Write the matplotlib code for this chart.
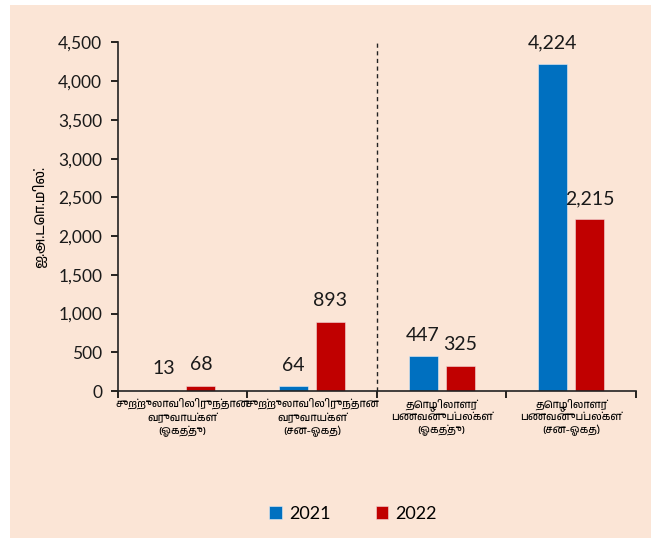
import matplotlib.pyplot as plt
import matplotlib.font_manager as fm
import numpy as np

categories = [
    "சுற்றுலாவிலிருந்தான\nவருவாய்கள்\n(ஓகத்து)",
    "சுற்றுலாவிலிருந்தான\nவருவாய்கள்\n(சன-ஓகத்)",
    "தொழிலாளர்\nபணவனுப்பல்கள்\n(ஓகத்து)",
    "தொழிலாளர்\nபணவனுப்பல்கள்\n(சன-ஓகத்)",
]
values_2021 = [13, 64, 447, 4224]
values_2022 = [68, 893, 325, 2215]
series_names = ["2021", "2022"]
y_label = "ஐ.அ.டொ.மில்."

BLUE = "#0070C0"
RED = "#C00000"
BG = "#FBE5D6"

tamil = sorted({f.name for f in fm.fontManager.ttflist if "Tamil" in f.name})
num_font = ["Lato", "DejaVu Sans"]
tam_font = tamil + ["Noto Sans", "DejaVu Sans"]
plt.rcParams["font.family"] = num_font

fig = plt.figure(figsize=(6.57, 5.45), dpi=100)
fig.patch.set_facecolor("white")
fig.patches.append(plt.Rectangle((10 / 657, 7 / 545), 641 / 657, 533 / 545,
                                 transform=fig.transFigure, facecolor=BG,
                                 edgecolor="none", zorder=-10))

ax = fig.add_axes([117.5 / 657, 1 - 391 / 545, (636 - 117.5) / 657, (391 - 42.5) / 545])
ax.set_facecolor(BG)

x = np.arange(len(categories))
w = 0.224
off = 0.143
b1 = ax.bar(x - off, values_2021, w, color=BLUE, label=series_names[0],
            edgecolor="#e8eef5", linewidth=0.4)
b2 = ax.bar(x + off, values_2022, w, color=RED, label=series_names[1],
            edgecolor="#f2dada", linewidth=0.4)

for bars in (b1, b2):
    for r in bars:
        h = r.get_height()
        ax.annotate(f"{h:,.0f}", (r.get_x() + r.get_width() / 2, h),
                    xytext=(0, 9), textcoords="offset points",
                    ha="center", va="bottom", fontsize=14, color="#1a1a1a")

ax.set_xlim(-0.5, 3.5)
ax.set_ylim(0, 4500)
ax.set_yticks(np.arange(0, 4501, 500))
ax.set_yticklabels([f"{v:,}" for v in range(0, 4501, 500)], fontsize=12.5, color="#1a1a1a")
ax.tick_params(axis="y", direction="out", length=5, width=1.2, pad=6)

ax.set_xticks(x)
ax.set_xticklabels(categories, fontsize=7.7, family=tam_font, linespacing=1.35)
ax.tick_params(axis="x", length=0, pad=5)
ax.set_xticks(np.arange(-0.5, 4, 1), minor=True)
ax.tick_params(axis="x", which="minor", direction="out", length=5, width=1.2)

ax.axvline(1.5, color="#222222", linestyle=(0, (3, 2.5)), linewidth=1)

for s in ("top", "right"):
    ax.spines[s].set_visible(False)
for s in ("left", "bottom"):
    ax.spines[s].set_linewidth(1.2)
    ax.spines[s].set_color("#222222")

ax.set_ylabel(y_label, family=tam_font, fontsize=10, labelpad=8)

fig.legend(handles=[b1, b2], loc="center", bbox_to_anchor=(353 / 657, 1 - 514 / 545),
           ncol=2, frameon=False, fontsize=13, handlelength=0.7, handleheight=0.7,
           columnspacing=2.5, handletextpad=0.4)

fig.savefig("out.png", dpi=100, facecolor=fig.get_facecolor())
